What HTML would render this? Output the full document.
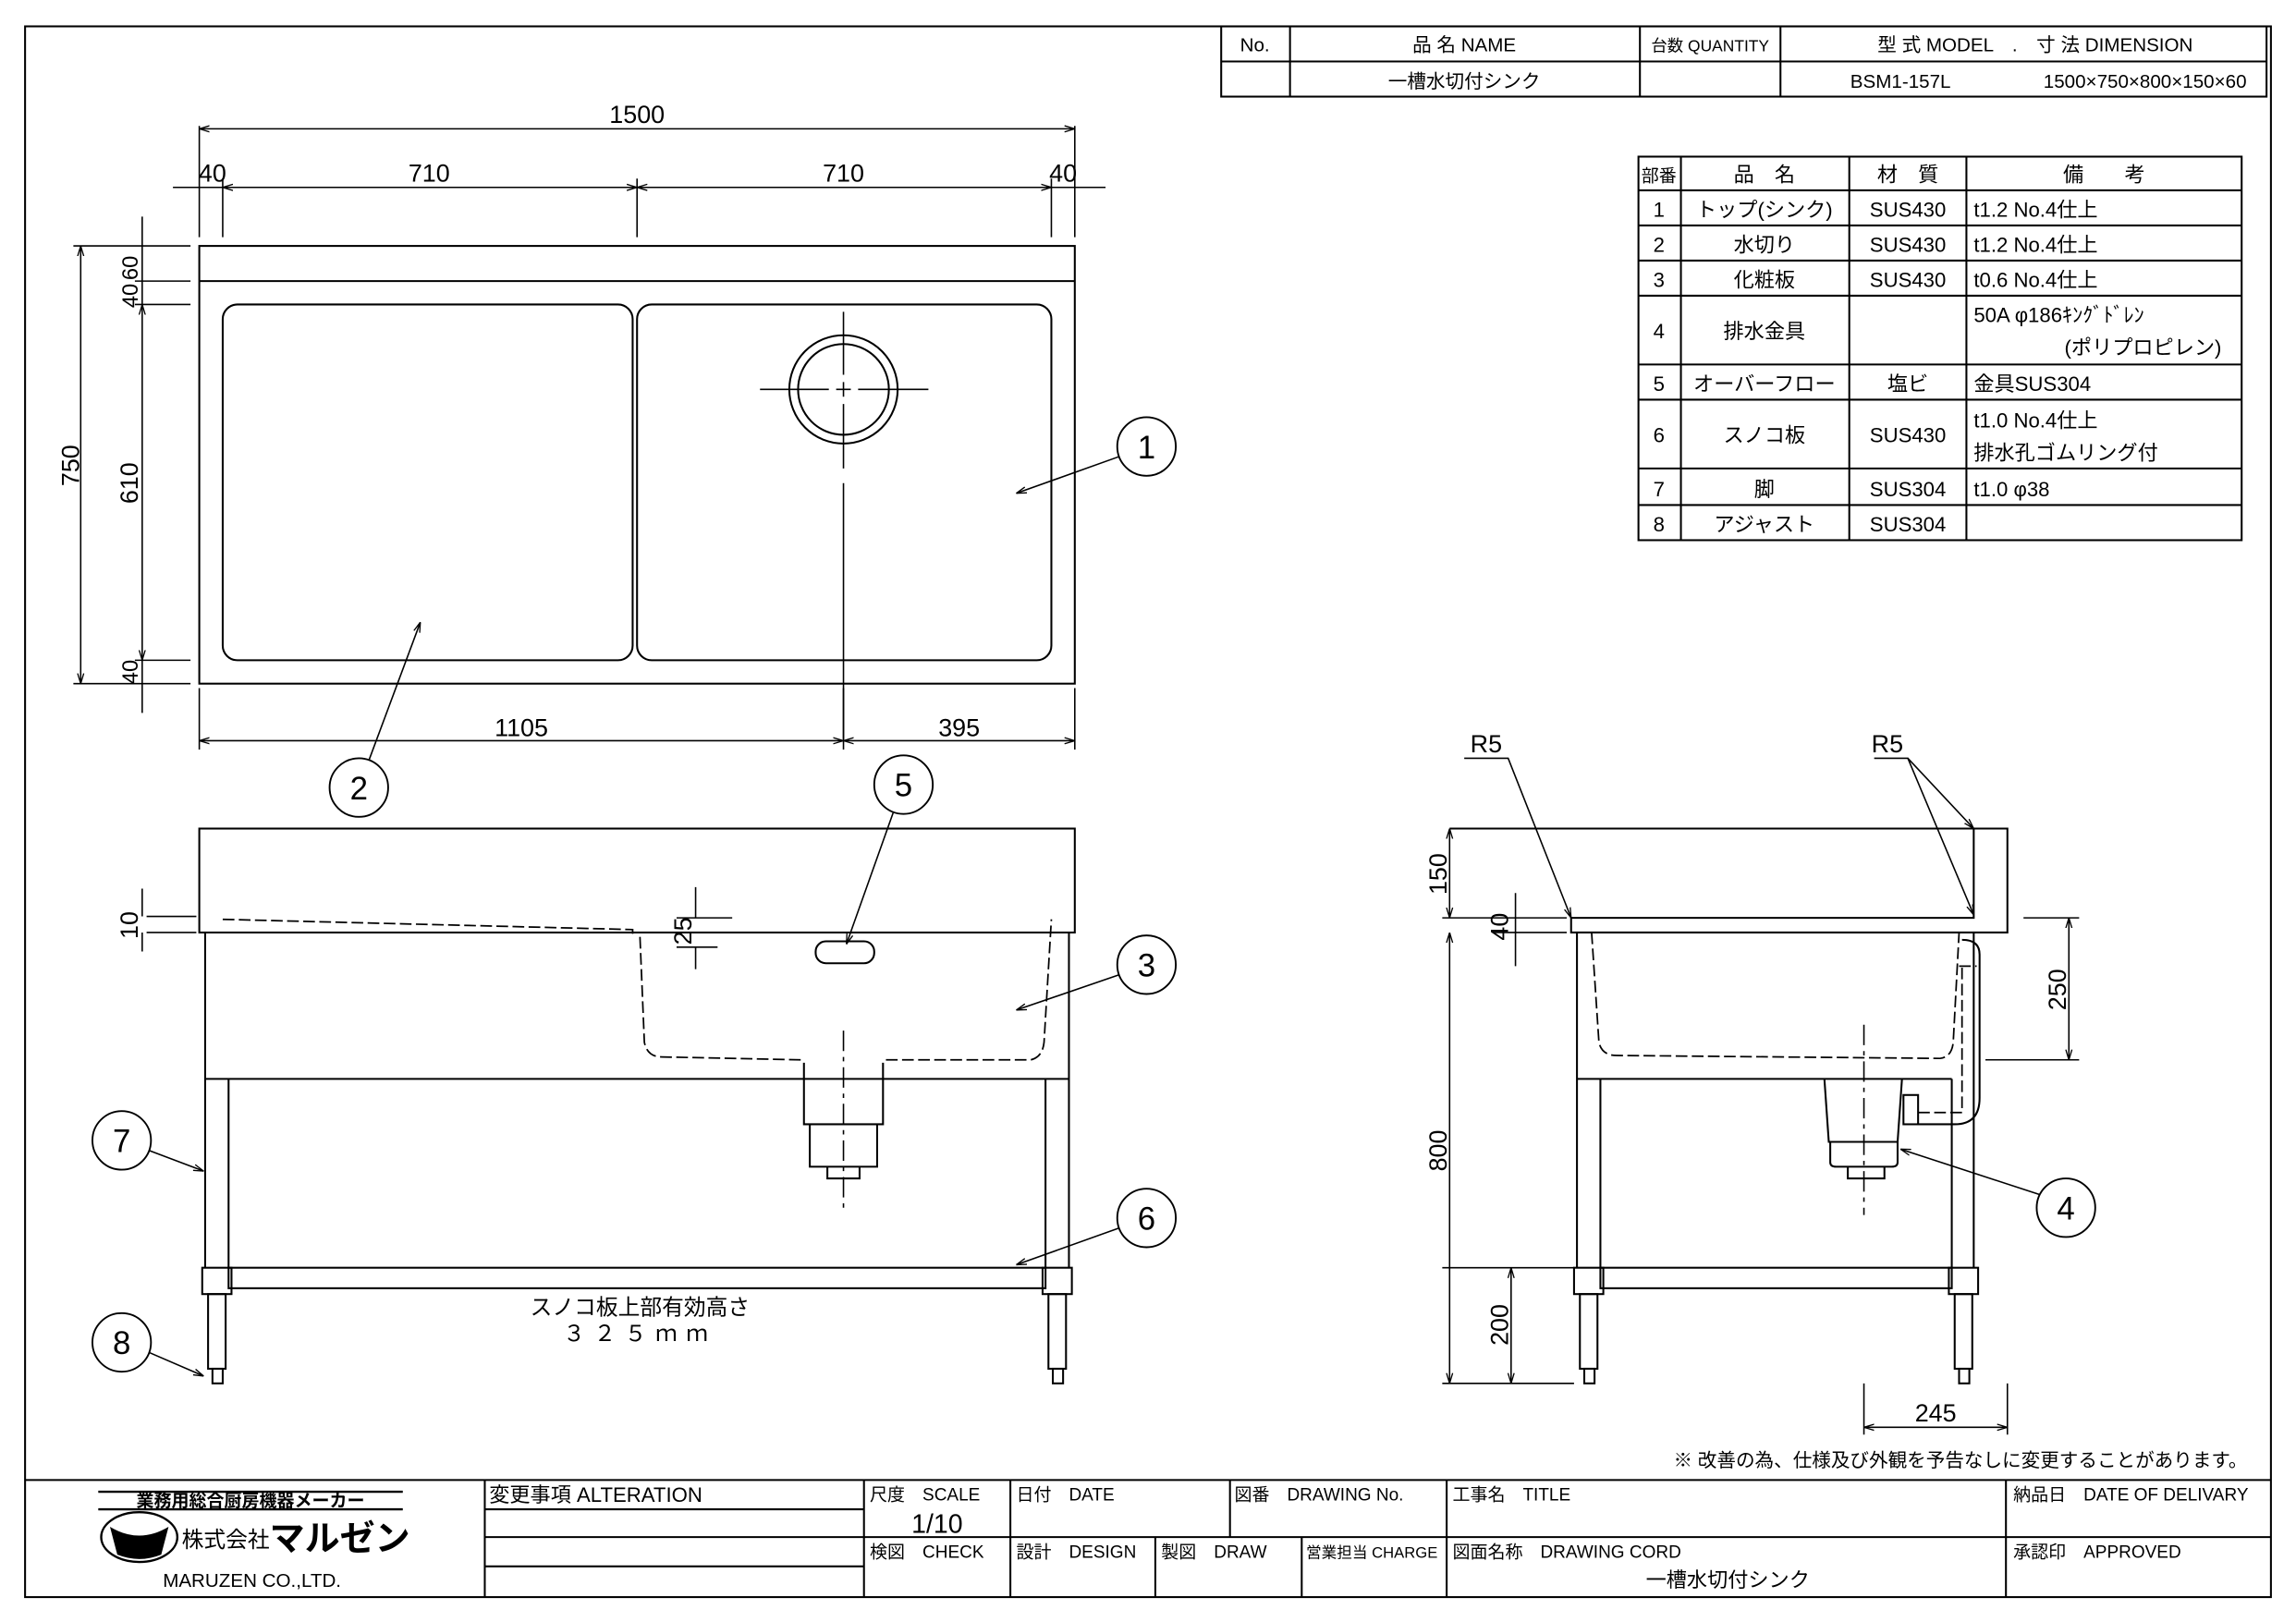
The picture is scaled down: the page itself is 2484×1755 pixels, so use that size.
<!DOCTYPE html>
<html><head><meta charset="utf-8"><style>
html,body{margin:0;padding:0;background:#fff;}
svg{display:block;}
text{font-family:"Liberation Sans","Noto Sans CJK JP",sans-serif;fill:#000;}
</style></head><body>
<svg width="2484" height="1755" viewBox="0 0 1568 1108" xmlns="http://www.w3.org/2000/svg">
<defs>
<marker id="a" viewBox="0 0 10 10" refX="10" refY="5" markerWidth="7" markerHeight="7" orient="auto-start-reverse"><path d="M0,2 L10,5 L0,8" fill="none" stroke="#000" stroke-width="1.2"/></marker>
</defs>
<g fill="none" stroke="#000" stroke-width="1.3">
<rect x="17" y="18" width="1534" height="1073"/>
<rect x="834" y="18" width="714" height="48"/>
<line x1="834" y1="42" x2="1548" y2="42"/>
<line x1="881" y1="18" x2="881" y2="66"/><line x1="1120" y1="18" x2="1120" y2="66"/><line x1="1216" y1="18" x2="1216" y2="66"/>
<rect x="1119" y="107" width="412" height="262"/>
<line x1="1148" y1="107" x2="1148" y2="369"/><line x1="1263" y1="107" x2="1263" y2="369"/><line x1="1343" y1="107" x2="1343" y2="369"/>
<path d="M1119 130H1531M1119 154H1531M1119 178H1531M1119 202H1531M1119 249H1531M1119 273H1531M1119 320H1531M1119 345H1531"/>
<line x1="17" y1="1011" x2="1551" y2="1011"/>
<path d="M331 1011V1091M590 1011V1091M690 1011V1091M840 1011V1050M988 1011V1091M1370 1011V1091M789 1050V1091M889 1050V1091"/>
<path d="M590 1050H1551M331 1031H590M331 1050H590M331 1070H590"/>
<path d="M67 1019H275M67 1031H275" stroke-width="1.5"/>
</g>
<g font-size="13">
<text x="857" y="35" text-anchor="middle">No.</text>
<text x="1000" y="35" text-anchor="middle">品 名 NAME</text>
<text x="1168" y="35" text-anchor="middle" font-size="11">台数 QUANTITY</text>
<text x="1390" y="35" text-anchor="middle">型 式 MODEL　.　寸 法 DIMENSION</text>
<text x="1000" y="60" text-anchor="middle">一槽水切付シンク</text>
<text x="1298" y="60" text-anchor="middle">BSM1-157L</text>
<text x="1465" y="60" text-anchor="middle">1500×750×800×150×60</text>
</g>
<g font-size="14">
<text x="1133" y="124" text-anchor="middle" font-size="12">部番</text>
<text x="1205" y="124" text-anchor="middle">品　名</text>
<text x="1303" y="124" text-anchor="middle">材　質</text>
<text x="1437" y="124" text-anchor="middle">備　　考</text>
<text x="1133" y="148" text-anchor="middle">1</text><text x="1205" y="148" text-anchor="middle">トップ(シンク)</text><text x="1303" y="148" text-anchor="middle">SUS430</text><text x="1348" y="148">t1.2 No.4仕上</text>
<text x="1133" y="172" text-anchor="middle">2</text><text x="1205" y="172" text-anchor="middle">水切り</text><text x="1303" y="172" text-anchor="middle">SUS430</text><text x="1348" y="172">t1.2 No.4仕上</text>
<text x="1133" y="196" text-anchor="middle">3</text><text x="1205" y="196" text-anchor="middle">化粧板</text><text x="1303" y="196" text-anchor="middle">SUS430</text><text x="1348" y="196">t0.6 No.4仕上</text>
<text x="1133" y="231" text-anchor="middle">4</text><text x="1205" y="231" text-anchor="middle">排水金具</text><text x="1348" y="220">50A φ186ｷﾝｸﾞﾄﾞﾚﾝ</text><text x="1410" y="242">(ポリプロピレン)</text>
<text x="1133" y="267" text-anchor="middle">5</text><text x="1205" y="267" text-anchor="middle">オーバーフロー</text><text x="1303" y="267" text-anchor="middle">塩ビ</text><text x="1348" y="267">金具SUS304</text>
<text x="1133" y="302" text-anchor="middle">6</text><text x="1205" y="302" text-anchor="middle">スノコ板</text><text x="1303" y="302" text-anchor="middle">SUS430</text><text x="1348" y="292">t1.0 No.4仕上</text><text x="1348" y="314">排水孔ゴムリング付</text>
<text x="1133" y="339" text-anchor="middle">7</text><text x="1205" y="339" text-anchor="middle">脚</text><text x="1303" y="339" text-anchor="middle">SUS304</text><text x="1348" y="339">t1.0 φ38</text>
<text x="1133" y="363" text-anchor="middle">8</text><text x="1205" y="363" text-anchor="middle">アジャスト</text><text x="1303" y="363" text-anchor="middle">SUS304</text>
</g>
<g fill="none" stroke="#000" stroke-width="1.3">
<rect x="136" y="168" width="598" height="299"/>
<line x1="136" y1="192" x2="734" y2="192"/>
<rect x="152" y="208" width="280" height="243" rx="10"/>
<rect x="435" y="208" width="283" height="243" rx="10"/>
<circle cx="576" cy="266" r="37"/><circle cx="576" cy="266" r="31"/>
</g>
<g stroke="#000" stroke-width="1" fill="none">
<path d="M519 266H566M571 266H581M586 266H634M576 213V256M576 261V271M576 276V320M576 330V505"/>
<path d="M136 86V162M734 86V162M152 122V162M435 122V162M718 122V162M136 470V512M734 470V512M576 470V512"/>
<path d="M50 168H130M50 467H130M92 192H130M92 208H130M92 451H130"/>
</g>
<g stroke="#000" stroke-width="1" fill="none" marker-start="url(#a)" marker-end="url(#a)">
<line x1="136" y1="88" x2="734" y2="88"/>
<line x1="152" y1="128" x2="435" y2="128"/><line x1="435" y1="128" x2="718" y2="128"/>
<line x1="136" y1="506" x2="576" y2="506"/><line x1="576" y1="506" x2="734" y2="506"/>
<line x1="55" y1="168" x2="55" y2="467"/>
<line x1="97" y1="208" x2="97" y2="451"/>
</g>
<g stroke="#000" stroke-width="1" fill="none">
<path d="M118 128H152M718 128H755M97 148V168M97 168V192M97 192V208M97 451V467M97 467V487"/>
</g>
<g font-size="17">
<text x="435" y="84" text-anchor="middle">1500</text>
<text x="145" y="124" text-anchor="middle">40</text><text x="293" y="124" text-anchor="middle">710</text><text x="576" y="124" text-anchor="middle">710</text><text x="726" y="124" text-anchor="middle">40</text>
<text x="356" y="503" text-anchor="middle">1105</text><text x="655" y="503" text-anchor="middle">395</text>
<text transform="translate(54,318) rotate(-90)" text-anchor="middle">750</text>
<text transform="translate(94,330) rotate(-90)" text-anchor="middle">610</text>
<text transform="translate(94,183) rotate(-90)" text-anchor="middle" font-size="15">60</text>
<text transform="translate(94,202) rotate(-90)" text-anchor="middle" font-size="15">40</text>
<text transform="translate(94,459) rotate(-90)" text-anchor="middle" font-size="15">40</text>
</g>
<g fill="none" stroke="#000" stroke-width="1.2">
<circle cx="783" cy="305" r="20"/><circle cx="245" cy="538" r="20"/><circle cx="617" cy="536" r="20"/><circle cx="783" cy="659" r="20"/><circle cx="83" cy="779" r="20"/><circle cx="783" cy="832" r="20"/><circle cx="83" cy="917" r="20"/><circle cx="1411" cy="825" r="20"/>
</g>
<g stroke="#000" stroke-width="1" fill="none" marker-end="url(#a)">
<line x1="764" y1="312" x2="694" y2="337"/>
<line x1="252" y1="519" x2="287" y2="425"/>
<line x1="610" y1="555" x2="578" y2="645"/>
<line x1="764" y1="666" x2="694" y2="690"/>
<line x1="102" y1="786" x2="139" y2="800"/>
<line x1="764" y1="839" x2="694" y2="864"/>
<line x1="102" y1="924" x2="139" y2="940"/>
<line x1="1393" y1="816" x2="1298" y2="785"/>
</g>
<g font-size="22" text-anchor="middle">
<text x="783" y="313">1</text><text x="245" y="546">2</text><text x="617" y="544">5</text><text x="783" y="667">3</text><text x="83" y="787">7</text><text x="783" y="840">6</text><text x="83" y="925">8</text><text x="1411" y="833">4</text>
</g>
<g fill="none" stroke="#000" stroke-width="1.3">
<rect x="136" y="566" width="598" height="71"/>
<path d="M140 637V866M730 637V866M156 737V866M714 737V866M140 737H730"/>
<rect x="156" y="866" width="558" height="14"/>
<rect x="138" y="866" width="20" height="18"/><rect x="712" y="866" width="20" height="18"/>
<rect x="142" y="884" width="12" height="51"/><rect x="716" y="884" width="12" height="51"/>
<rect x="145" y="935" width="7" height="10"/><rect x="719" y="935" width="7" height="10"/>
<rect x="557" y="643" width="40" height="15" rx="7"/>
<path d="M549 726V768H603V726M553 768V797H599V768M565 797V805H587V797"/>
</g>
<g fill="none" stroke="#000" stroke-width="1.1" stroke-dasharray="8,3">
<path d="M152 628L432 635V640M437 640L440 712Q442 722 452 722L548 724M605 724L704 724Q712 722 713 712L718 628"/>
</g>
<path d="M576 704V825" stroke="#000" stroke-width="1" stroke-dasharray="14,4,3,4"/>
<g stroke="#000" stroke-width="1" fill="none">
<path d="M100 626H134M100 637H134M97 607V626M97 637V650M475 606V627M475 647V662M462 627H500M462 647H490"/>
</g>
<g font-size="17">
<text transform="translate(94,632) rotate(-90)" text-anchor="middle">10</text>
<text transform="translate(472,636) rotate(-90)" text-anchor="middle">25</text>
<text x="437" y="898" text-anchor="middle" font-size="15">スノコ板上部有効高さ</text>
<text x="437" y="916" text-anchor="middle" font-size="15" letter-spacing="6">３２５ｍｍ</text>
</g>
<g fill="none" stroke="#000" stroke-width="1.3">
<path d="M990 566H1371V637H1073V627H1348V566"/>
<path d="M1077 637V866M1093 737V866M1333 737V866M1348 637V866M1077 737H1333"/>
<rect x="1093" y="866" width="240" height="14"/>
<rect x="1075" y="866" width="20" height="18"/><rect x="1331" y="866" width="20" height="18"/>
<rect x="1079" y="884" width="12" height="51"/><rect x="1335" y="884" width="12" height="51"/>
<rect x="1082" y="935" width="7" height="10"/><rect x="1338" y="935" width="7" height="10"/>
<path d="M1246 737L1249 780H1296L1299 737M1250 780V794Q1250 797 1254 797H1292Q1296 797 1296 794V780M1262 797V805H1287V797"/>
<rect x="1300" y="748" width="10" height="20"/>
<path d="M1310 768H1335Q1352 768 1352 750V652Q1352 642 1340 642"/>
</g>
<g fill="none" stroke="#000" stroke-width="1.1" stroke-dasharray="8,3">
<path d="M1087 637L1092 712Q1094 721 1104 721L1325 723Q1333 722 1334 712L1338 637M1310 760H1340V660M1338 660H1350"/>
</g>
<path d="M1273 700V830" stroke="#000" stroke-width="1" stroke-dasharray="14,4,3,4"/>
<g stroke="#000" stroke-width="1" fill="none">
<path d="M985 627H1070M1020 637H1070M985 945H1075M985 866H1075M1382 627H1420M1356 724H1420M1273 945V980M1371 945V980M1035 610V660"/>
</g>
<g stroke="#000" stroke-width="1" fill="none" marker-start="url(#a)" marker-end="url(#a)">
<line x1="990" y1="566" x2="990" y2="627"/>
<line x1="990" y1="637" x2="990" y2="945"/>
<line x1="1032" y1="866" x2="1032" y2="945"/>
<line x1="1413" y1="627" x2="1413" y2="724"/>
<line x1="1273" y1="975" x2="1371" y2="975"/>
</g>
<g stroke="#000" stroke-width="1" fill="none" marker-end="url(#a)">
<path d="M1000 518H1030L1073 627"/>
<path d="M1280 518H1303L1348 625"/>
<line x1="1303" y1="518" x2="1348" y2="566"/>
</g>
<g font-size="17">
<text x="1015" y="514" text-anchor="middle">R5</text>
<text x="1289" y="514" text-anchor="middle">R5</text>
<text transform="translate(988,597) rotate(-90)" text-anchor="middle">150</text>
<text transform="translate(1030,633) rotate(-90)" text-anchor="middle">40</text>
<text transform="translate(988,786) rotate(-90)" text-anchor="middle">800</text>
<text transform="translate(1030,905) rotate(-90)" text-anchor="middle">200</text>
<text transform="translate(1411,676) rotate(-90)" text-anchor="middle">250</text>
<text x="1322" y="971" text-anchor="middle">245</text>
</g>
<text x="1535" y="1002" text-anchor="end" font-size="13">※ 改善の為、仕様及び外観を予告なしに変更することがあります。</text>
<g font-size="12">
<text x="171" y="1029" text-anchor="middle" font-weight="bold">業務用総合厨房機器メーカー</text>
<ellipse cx="95" cy="1050" rx="26" ry="17" fill="none" stroke="#000" stroke-width="1.5"/>
<path d="M75 1043Q95 1055 115 1043L110 1062Q95 1068 80 1062Z" fill="#000"/>
<text x="124" y="1057" font-size="15">株式会社</text>
<text x="184" y="1059" font-size="24" font-weight="bold">マルゼン</text>
<text x="172" y="1084" text-anchor="middle" font-size="13">MARUZEN CO.,LTD.</text>
<text x="334" y="1026" font-size="14">変更事項 ALTERATION</text>
<text x="594" y="1025">尺度　SCALE</text>
<text x="640" y="1047" text-anchor="middle" font-size="18">1/10</text>
<text x="594" y="1064">検図　CHECK</text>
<text x="694" y="1025">日付　DATE</text>
<text x="694" y="1064">設計　DESIGN</text>
<text x="793" y="1064">製図　DRAW</text>
<text x="843" y="1025">図番　DRAWING No.</text>
<text x="892" y="1064" font-size="10.5">営業担当 CHARGE</text>
<text x="992" y="1025">工事名　TITLE</text>
<text x="992" y="1064">図面名称　DRAWING CORD</text>
<text x="1180" y="1084" text-anchor="middle" font-size="14">一槽水切付シンク</text>
<text x="1375" y="1025">納品日　DATE OF DELIVARY</text>
<text x="1375" y="1064">承認印　APPROVED</text>
</g>
</svg>
</body></html>
